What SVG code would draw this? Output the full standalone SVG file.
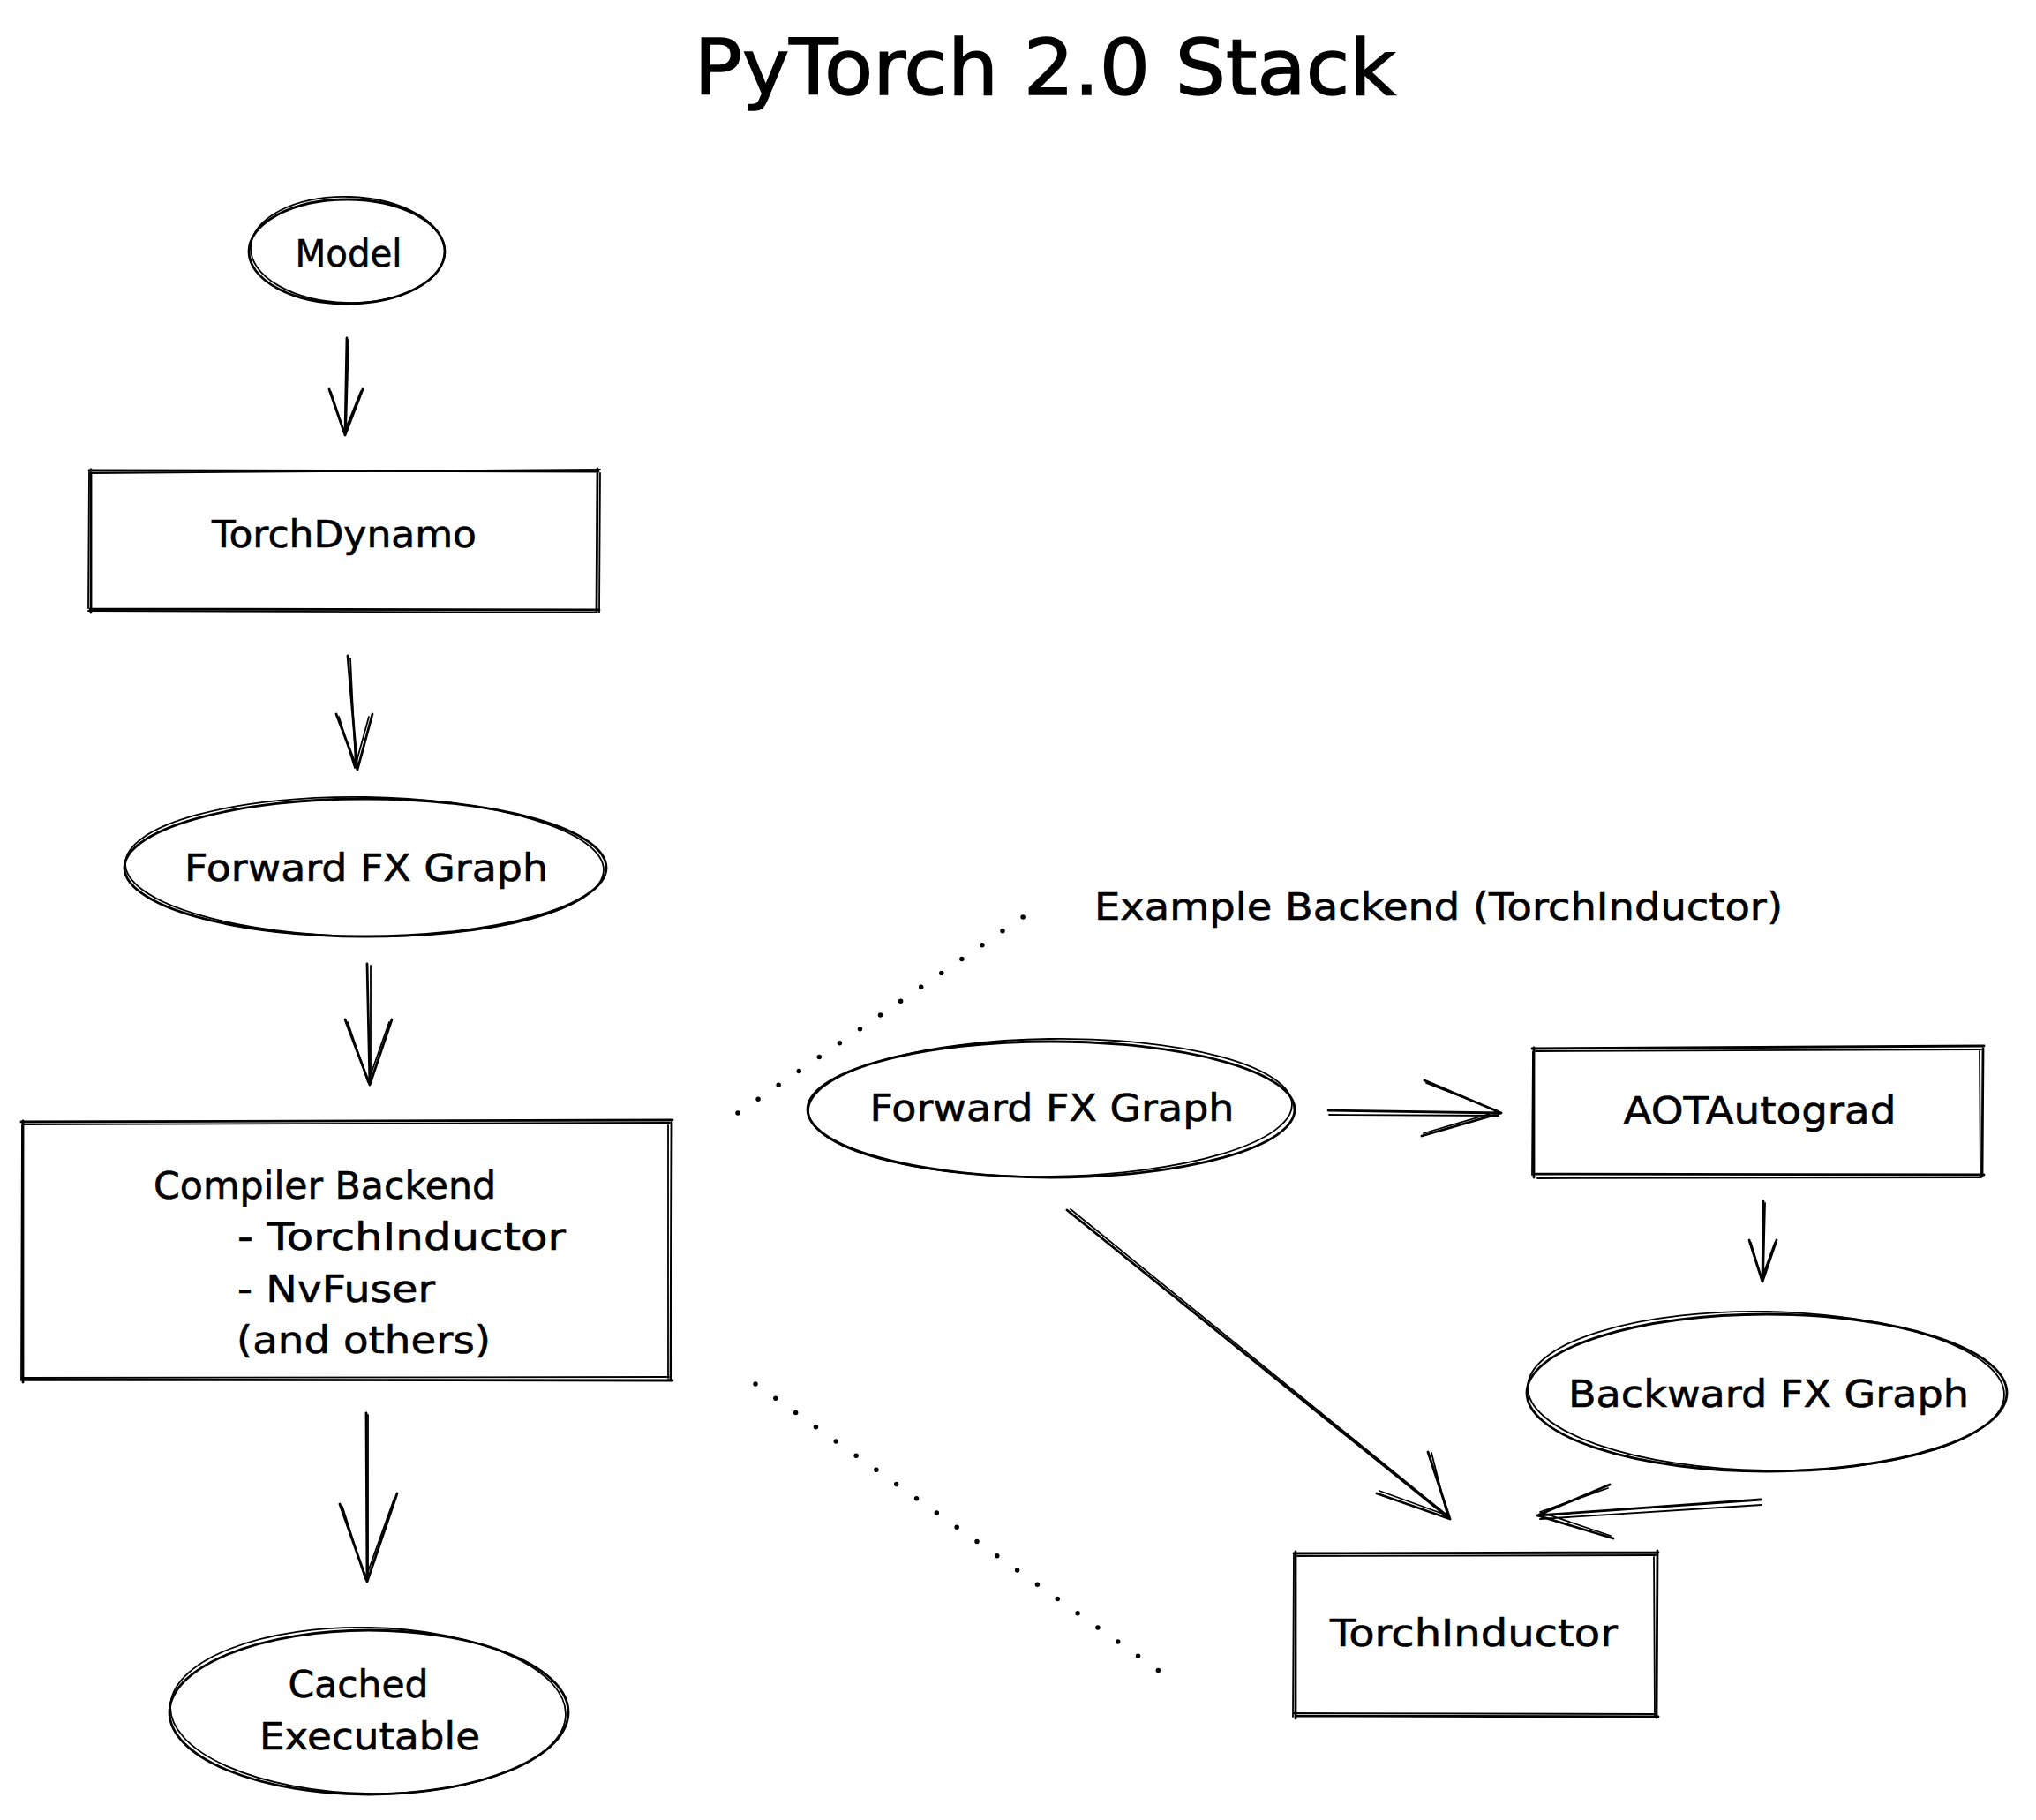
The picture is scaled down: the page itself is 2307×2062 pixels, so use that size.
<svg xmlns="http://www.w3.org/2000/svg" width="2307" height="2062" viewBox="0 0 2307 2062">
<style>
.s{fill:none;stroke:#000;stroke-width:2.8;stroke-linecap:round;stroke-linejoin:round}
.s2{fill:none;stroke:#000;stroke-width:1.8;stroke-linecap:round;stroke-linejoin:round}
.d{fill:none;stroke:#000;stroke-width:5.5;stroke-linecap:round;stroke-dasharray:0 28}
.t{font-family:"DejaVu Sans","Liberation Sans",sans-serif;font-size:43px;fill:#000;text-anchor:middle;stroke:#000;stroke-width:0.6}
.l{font-family:"DejaVu Sans","Liberation Sans",sans-serif;font-size:43px;fill:#000;text-anchor:start;stroke:#000;stroke-width:0.6}
.title{font-family:"DejaVu Sans","Liberation Sans",sans-serif;font-size:88px;fill:#000;text-anchor:middle;stroke:#000;stroke-width:1.5}
</style>
<rect x="0" y="0" width="2307" height="2062" fill="#fff"/>
<text class="title" x="1184" y="107" textLength="795" lengthAdjust="spacingAndGlyphs">PyTorch 2.0 Stack</text>

<g id="model">
<ellipse class="s" cx="393" cy="285" rx="111" ry="59"/>
<ellipse class="s2" cx="394" cy="283" rx="110" ry="60" transform="rotate(1.5 394 283)"/>
<text class="t" x="395" y="302" textLength="121" lengthAdjust="spacingAndGlyphs">Model</text>
</g>

<g id="torchdynamo">
<path class="s" d="M101 533 L678 534 M677 531 L676 692 M679 691 L102 690 M103 694 L103 532"/>
<path class="s2" d="M104 536 L680 532 M680 536 L679 694 M677 694 L100 692 M100 689 L101 535"/>
<text class="t" x="390" y="620" textLength="300" lengthAdjust="spacingAndGlyphs">TorchDynamo</text>
</g>

<g id="fwd-left">
<ellipse class="s" cx="414" cy="983" rx="273" ry="78"/>
<ellipse class="s2" cx="413" cy="982" rx="271" ry="79" transform="rotate(0.8 413 982)"/>
<text class="t" x="415" y="998" textLength="412" lengthAdjust="spacingAndGlyphs">Forward FX Graph</text>
</g>

<g id="compiler-backend">
<path class="s" d="M24 1271 L762 1269 M761 1272 L760 1564 M762 1564 L27 1563 M26 1566 L26 1270"/>
<path class="s2" d="M27 1274 L759 1272 M757 1275 L757 1562 M758 1560 L25 1561 M24 1564 L25 1275"/>
<text class="l" x="174" y="1358" textLength="388" lengthAdjust="spacingAndGlyphs">Compiler Backend</text>
<text class="l" x="269" y="1416" textLength="372" lengthAdjust="spacingAndGlyphs">- TorchInductor</text>
<text class="l" x="269" y="1475" textLength="224" lengthAdjust="spacingAndGlyphs">- NvFuser</text>
<text class="l" x="268" y="1533" textLength="288" lengthAdjust="spacingAndGlyphs">(and others)</text>
</g>

<g id="cached">
<ellipse class="s" cx="418" cy="1940" rx="226" ry="93"/>
<ellipse class="s2" cx="417" cy="1938" rx="224" ry="94" transform="rotate(1.2 417 1938)"/>
<text class="t" x="406" y="1923" textLength="159" lengthAdjust="spacingAndGlyphs">Cached</text>
<text class="t" x="419" y="1982" textLength="250" lengthAdjust="spacingAndGlyphs">Executable</text>
</g>

<g id="example-label">
<text class="t" x="1630" y="1042" textLength="780" lengthAdjust="spacingAndGlyphs">Example Backend (TorchInductor)</text>
</g>

<g id="fwd-right">
<ellipse class="s" cx="1191" cy="1257" rx="276" ry="77"/>
<ellipse class="s2" cx="1190" cy="1255" rx="274" ry="78" transform="rotate(-0.8 1190 1255)"/>
<text class="t" x="1192" y="1270" textLength="413" lengthAdjust="spacingAndGlyphs">Forward FX Graph</text>
</g>

<g id="aotautograd">
<path class="s" d="M1736 1188 L2248 1185 M2247 1188 L2246 1332 M2248 1331 L1739 1330 M1738 1334 L1738 1187"/>
<path class="s2" d="M1740 1191 L2245 1189 M2243 1190 L2244 1334 M2245 1334 L1742 1335 M1736 1331 L1737 1192"/>
<text class="t" x="1994" y="1273" textLength="309" lengthAdjust="spacingAndGlyphs">AOTAutograd</text>
</g>

<g id="backward">
<ellipse class="s" cx="2002" cy="1578" rx="272" ry="89"/>
<ellipse class="s2" cx="2001" cy="1576" rx="270" ry="90" transform="rotate(1 2001 1576)"/>
<text class="t" x="2004" y="1594" textLength="454" lengthAdjust="spacingAndGlyphs">Backward FX Graph</text>
</g>

<g id="torchinductor">
<path class="s" d="M1466 1760 L1879 1759 M1878 1757 L1877 1946 M1879 1945 L1469 1944 M1468 1947 L1468 1758"/>
<path class="s2" d="M1470 1763 L1876 1762 M1874 1762 L1875 1944 M1876 1942 L1466 1941 M1465 1945 L1466 1762"/>
<text class="t" x="1670" y="1865" textLength="326" lengthAdjust="spacingAndGlyphs">TorchInductor</text>
</g>

<g id="connectors">
<path class="s" d="M393 383 L391 493 M373 441 L391 493 L411 441"/>
<path class="s2" d="M395 385 L392 490 M375 444 L390 490 L409 443"/>
<path class="s" d="M394 743 L405 872 M381 809 L405 872 L422 809"/>
<path class="s2" d="M397 746 L403 868 M384 812 L402 870 L418 812"/>
<path class="s" d="M416 1092 L419 1229 M391 1155 L419 1229 L444 1155"/>
<path class="s2" d="M420 1094 L420 1226 M394 1158 L417 1226 L441 1158"/>
<path class="s" d="M415 1601 L416 1792 M385 1704 L416 1792 L450 1692"/>
<path class="s2" d="M417 1603 L417 1789 M388 1707 L414 1789 L447 1697"/>
<path class="s" d="M1505 1258 L1701 1261 M1614 1224 L1701 1261 L1611 1287"/>
<path class="s2" d="M1506 1263 L1698 1264 M1616 1227 L1698 1259 L1613 1284"/>
<path class="s" d="M1998 1361 L1997 1452 M1982 1405 L1997 1452 L2013 1405"/>
<path class="s2" d="M2000 1363 L1998 1449 M1984 1408 L1996 1449 L2011 1408"/>
<path class="s" d="M1209 1371 L1643 1721 M1618 1645 L1643 1721 L1560 1692"/>
<path class="s2" d="M1213 1370 L1640 1717 M1622 1646 L1640 1717 L1563 1689"/>
<path class="s" d="M1995 1699 L1742 1717 M1824 1682 L1742 1717 L1828 1743"/>
<path class="s2" d="M1996 1705 L1745 1721 M1822 1686 L1745 1713 L1825 1740"/>
<path class="d" d="M836 1261 L1162 1037"/>
<path class="d" d="M856 1568 L1320 1898"/>
</g>
</svg>
